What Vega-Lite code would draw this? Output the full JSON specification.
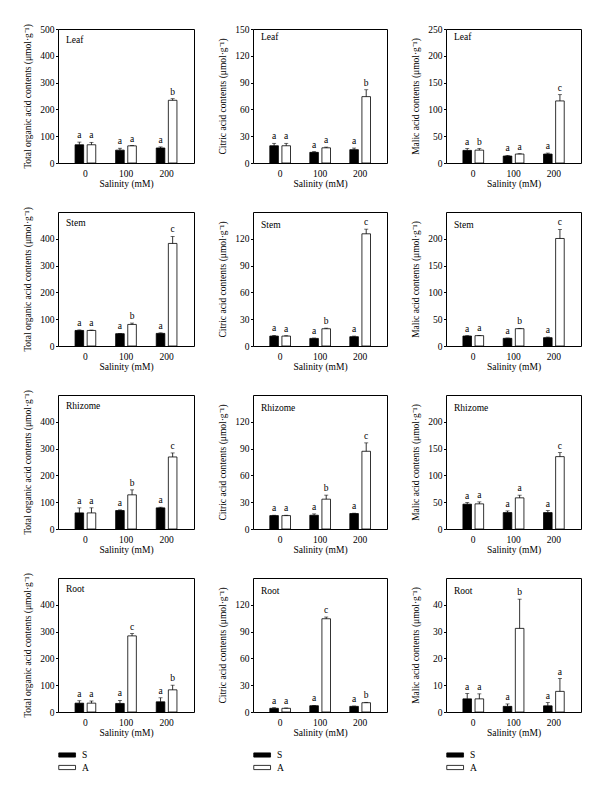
{
"$schema": "https://vega.github.io/schema/vega-lite/v6.json",
"padding": {"left": 21, "top": 23, "right": 5, "bottom": 5},
"datasets": {"d": [
{"o":"Leaf","c":"T","s":"0","g":"S","v":68,"hi":78,"L":"a"},
{"o":"Leaf","c":"T","s":"0","g":"A","v":68,"hi":77,"L":"a"},
{"o":"Leaf","c":"T","s":"100","g":"S","v":48,"hi":55,"L":"a"},
{"o":"Leaf","c":"T","s":"100","g":"A","v":64,"hi":65,"L":"a"},
{"o":"Leaf","c":"T","s":"200","g":"S","v":56,"hi":60,"L":"a"},
{"o":"Leaf","c":"T","s":"200","g":"A","v":234,"hi":240,"L":"b"},
{"o":"Leaf","c":"C","s":"0","g":"S","v":19.3,"hi":22,"L":"a"},
{"o":"Leaf","c":"C","s":"0","g":"A","v":19.3,"hi":22,"L":"a"},
{"o":"Leaf","c":"C","s":"100","g":"S","v":11.9,"hi":12.7,"L":"a"},
{"o":"Leaf","c":"C","s":"100","g":"A","v":17,"hi":17.8,"L":"a"},
{"o":"Leaf","c":"C","s":"200","g":"S","v":14.9,"hi":16.7,"L":"a"},
{"o":"Leaf","c":"C","s":"200","g":"A","v":74.3,"hi":82,"L":"b"},
{"o":"Leaf","c":"M","s":"0","g":"S","v":23.5,"hi":27,"L":"a"},
{"o":"Leaf","c":"M","s":"0","g":"A","v":24,"hi":27,"L":"b"},
{"o":"Leaf","c":"M","s":"100","g":"S","v":13,"hi":14,"L":"a"},
{"o":"Leaf","c":"M","s":"100","g":"A","v":16.7,"hi":17.3,"L":"a"},
{"o":"Leaf","c":"M","s":"200","g":"S","v":16.7,"hi":18.5,"L":"a"},
{"o":"Leaf","c":"M","s":"200","g":"A","v":115.8,"hi":127.5,"L":"c"},
{"o":"Stem","c":"T","s":"0","g":"S","v":58,"hi":60,"L":"a"},
{"o":"Stem","c":"T","s":"0","g":"A","v":58,"hi":59.5,"L":"a"},
{"o":"Stem","c":"T","s":"100","g":"S","v":46,"hi":47,"L":"a"},
{"o":"Stem","c":"T","s":"100","g":"A","v":80.5,"hi":85.5,"L":"b"},
{"o":"Stem","c":"T","s":"200","g":"S","v":47,"hi":49,"L":"a"},
{"o":"Stem","c":"T","s":"200","g":"A","v":382.7,"hi":408.7,"L":"c"},
{"o":"Stem","c":"C","s":"0","g":"S","v":11.1,"hi":11.8,"L":"a"},
{"o":"Stem","c":"C","s":"0","g":"A","v":11.1,"hi":11.5,"L":"a"},
{"o":"Stem","c":"C","s":"100","g":"S","v":8.5,"hi":8.9,"L":"a"},
{"o":"Stem","c":"C","s":"100","g":"A","v":19.3,"hi":20,"L":"b"},
{"o":"Stem","c":"C","s":"200","g":"S","v":10.4,"hi":11.1,"L":"a"},
{"o":"Stem","c":"C","s":"200","g":"A","v":125.6,"hi":130.8,"L":"c"},
{"o":"Stem","c":"M","s":"0","g":"S","v":18.6,"hi":19.2,"L":"a"},
{"o":"Stem","c":"M","s":"0","g":"A","v":19.3,"hi":19.9,"L":"a"},
{"o":"Stem","c":"M","s":"100","g":"S","v":14.3,"hi":14.9,"L":"a"},
{"o":"Stem","c":"M","s":"100","g":"A","v":32.3,"hi":32.9,"L":"b"},
{"o":"Stem","c":"M","s":"200","g":"S","v":15.5,"hi":16.7,"L":"a"},
{"o":"Stem","c":"M","s":"200","g":"A","v":200.6,"hi":217.4,"L":"c"},
{"o":"Rhizome","c":"T","s":"0","g":"S","v":60,"hi":78.8,"L":"a"},
{"o":"Rhizome","c":"T","s":"0","g":"A","v":60,"hi":79,"L":"a"},
{"o":"Rhizome","c":"T","s":"100","g":"S","v":68.8,"hi":71.3,"L":"a"},
{"o":"Rhizome","c":"T","s":"100","g":"A","v":127.5,"hi":146,"L":"b"},
{"o":"Rhizome","c":"T","s":"200","g":"S","v":78.8,"hi":81.3,"L":"a"},
{"o":"Rhizome","c":"T","s":"200","g":"A","v":268.8,"hi":283.8,"L":"c"},
{"o":"Rhizome","c":"C","s":"0","g":"S","v":15,"hi":15.4,"L":"a"},
{"o":"Rhizome","c":"C","s":"0","g":"A","v":15,"hi":15.4,"L":"a"},
{"o":"Rhizome","c":"C","s":"100","g":"S","v":15.4,"hi":16.9,"L":"a"},
{"o":"Rhizome","c":"C","s":"100","g":"A","v":33.4,"hi":37.9,"L":"b"},
{"o":"Rhizome","c":"C","s":"200","g":"S","v":17.3,"hi":17.7,"L":"a"},
{"o":"Rhizome","c":"C","s":"200","g":"A","v":87,"hi":96.4,"L":"c"},
{"o":"Rhizome","c":"M","s":"0","g":"S","v":46.3,"hi":49.4,"L":"a"},
{"o":"Rhizome","c":"M","s":"0","g":"A","v":46.9,"hi":50.6,"L":"a"},
{"o":"Rhizome","c":"M","s":"100","g":"S","v":30.6,"hi":33.7,"L":"a"},
{"o":"Rhizome","c":"M","s":"100","g":"A","v":58.1,"hi":63.1,"L":"a"},
{"o":"Rhizome","c":"M","s":"200","g":"S","v":30.6,"hi":34.3,"L":"a"},
{"o":"Rhizome","c":"M","s":"200","g":"A","v":135,"hi":142.5,"L":"c"},
{"o":"Root","c":"T","s":"0","g":"S","v":33,"hi":42,"L":"a"},
{"o":"Root","c":"T","s":"0","g":"A","v":33,"hi":41,"L":"a"},
{"o":"Root","c":"T","s":"100","g":"S","v":32,"hi":43,"L":"a"},
{"o":"Root","c":"T","s":"100","g":"A","v":284,"hi":292.6,"L":"c"},
{"o":"Root","c":"T","s":"200","g":"S","v":38,"hi":53,"L":"a"},
{"o":"Root","c":"T","s":"200","g":"A","v":82.7,"hi":100,"L":"b"},
{"o":"Root","c":"C","s":"0","g":"S","v":4.1,"hi":4.8,"L":"a"},
{"o":"Root","c":"C","s":"0","g":"A","v":4.1,"hi":4.5,"L":"a"},
{"o":"Root","c":"C","s":"100","g":"S","v":7,"hi":7.4,"L":"a"},
{"o":"Root","c":"C","s":"100","g":"A","v":104.4,"hi":106.3,"L":"c"},
{"o":"Root","c":"C","s":"200","g":"S","v":6.3,"hi":6.7,"L":"a"},
{"o":"Root","c":"C","s":"200","g":"A","v":10.4,"hi":10.8,"L":"b"},
{"o":"Root","c":"M","s":"0","g":"S","v":4.9,"hi":6.9,"L":"a"},
{"o":"Root","c":"M","s":"0","g":"A","v":4.9,"hi":6.8,"L":"a"},
{"o":"Root","c":"M","s":"100","g":"S","v":2.1,"hi":3,"L":"a"},
{"o":"Root","c":"M","s":"100","g":"A","v":31.2,"hi":42.1,"L":"b"},
{"o":"Root","c":"M","s":"200","g":"S","v":2.3,"hi":3.5,"L":"a"},
{"o":"Root","c":"M","s":"200","g":"A","v":7.7,"hi":12.5,"L":"a"}
]},
"columns": 3,
"align": "each",
"bounds": "flush",
"spacing": {"row": 49, "column": 59},
"resolve": {"legend": {"fill": "independent"}},
"concat": [
{"width":136,"height":134,"title":{"text":"Leaf","offset":-21},"data":{"name":"d"},"transform":[{"filter":"datum.o=='Leaf' && datum.c=='T'"}],
"encoding":{"x":{"field":"s","type":"nominal","sort":["0","100","200"],"title":"Salinity (mM)","scale":{"paddingInner":0.49,"paddingOuter":0.42}},"xOffset":{"field":"g","type":"nominal","sort":["S","A"],"scale":{"paddingInner":0.29,"paddingOuter":0}}},
"layer":[
{"mark":"bar","encoding":{"y":{"field":"v","type":"quantitative","scale":{"domain":[0,500],"nice":false},"axis":{"values":[0,100,200,300,400,500]},"title":"Total organic acid contents (μmol·g⁻¹)"},"fill":{"field":"g","type":"nominal","scale":{"domain":["S","A"],"range":["#000000","#ffffff"]},"legend":null}}},
{"mark":"rule","encoding":{"y":{"field":"v","type":"quantitative","axis":{"values":[0,100,200,300,400,500]},"title":"Total organic acid contents (μmol·g⁻¹)"},"y2":{"field":"hi"}}},
{"mark":{"type":"tick","size":4},"encoding":{"y":{"field":"hi","type":"quantitative","axis":{"values":[0,100,200,300,400,500]},"title":"Total organic acid contents (μmol·g⁻¹)"}}},
{"mark":{"type":"text","color":"#000000"},"encoding":{"y":{"field":"hi","type":"quantitative","axis":{"values":[0,100,200,300,400,500]},"title":"Total organic acid contents (μmol·g⁻¹)"},"text":{"field":"L"}}}]},
{"width":134,"height":134,"title":"Leaf","data":{"name":"d"},"transform":[{"filter":"datum.o=='Leaf' && datum.c=='C'"}],
"encoding":{"x":{"field":"s","type":"nominal","sort":["0","100","200"],"title":"Salinity (mM)","scale":{"paddingInner":0.49,"paddingOuter":0.42}},"xOffset":{"field":"g","type":"nominal","sort":["S","A"],"scale":{"paddingInner":0.29,"paddingOuter":0}}},
"layer":[
{"mark":"bar","encoding":{"y":{"field":"v","type":"quantitative","scale":{"domain":[0,150],"nice":false},"axis":{"values":[0,30,60,90,120,150]},"title":"Citric acid contents (μmol·g⁻¹)"},"fill":{"field":"g","type":"nominal","scale":{"domain":["S","A"],"range":["#000000","#ffffff"]},"legend":null}}},
{"mark":"rule","encoding":{"y":{"field":"v","type":"quantitative","axis":{"values":[0,30,60,90,120,150]},"title":"Citric acid contents (μmol·g⁻¹)"},"y2":{"field":"hi"}}},
{"mark":{"type":"tick","size":4},"encoding":{"y":{"field":"hi","type":"quantitative","axis":{"values":[0,30,60,90,120,150]},"title":"Citric acid contents (μmol·g⁻¹)"}}},
{"mark":{"type":"text","color":"#000000"},"encoding":{"y":{"field":"hi","type":"quantitative","axis":{"values":[0,30,60,90,120,150]},"title":"Citric acid contents (μmol·g⁻¹)"},"text":{"field":"L"}}}]},
{"width":135,"height":134,"title":"Leaf","data":{"name":"d"},"transform":[{"filter":"datum.o=='Leaf' && datum.c=='M'"}],
"encoding":{"x":{"field":"s","type":"nominal","sort":["0","100","200"],"title":"Salinity (mM)","scale":{"paddingInner":0.49,"paddingOuter":0.42}},"xOffset":{"field":"g","type":"nominal","sort":["S","A"],"scale":{"paddingInner":0.29,"paddingOuter":0}}},
"layer":[
{"mark":"bar","encoding":{"y":{"field":"v","type":"quantitative","scale":{"domain":[0,250],"nice":false},"axis":{"values":[0,50,100,150,200,250]},"title":"Malic acid contents (μmol·g⁻¹)"},"fill":{"field":"g","type":"nominal","scale":{"domain":["S","A"],"range":["#000000","#ffffff"]},"legend":null}}},
{"mark":"rule","encoding":{"y":{"field":"v","type":"quantitative","axis":{"values":[0,50,100,150,200,250]},"title":"Malic acid contents (μmol·g⁻¹)"},"y2":{"field":"hi"}}},
{"mark":{"type":"tick","size":4},"encoding":{"y":{"field":"hi","type":"quantitative","axis":{"values":[0,50,100,150,200,250]},"title":"Malic acid contents (μmol·g⁻¹)"}}},
{"mark":{"type":"text","color":"#000000"},"encoding":{"y":{"field":"hi","type":"quantitative","axis":{"values":[0,50,100,150,200,250]},"title":"Malic acid contents (μmol·g⁻¹)"},"text":{"field":"L"}}}]},
{"width":136,"height":134,"title":{"text":"Stem","offset":-21},"data":{"name":"d"},"transform":[{"filter":"datum.o=='Stem' && datum.c=='T'"}],
"encoding":{"x":{"field":"s","type":"nominal","sort":["0","100","200"],"title":"Salinity (mM)","scale":{"paddingInner":0.49,"paddingOuter":0.42}},"xOffset":{"field":"g","type":"nominal","sort":["S","A"],"scale":{"paddingInner":0.29,"paddingOuter":0}}},
"layer":[
{"mark":"bar","encoding":{"y":{"field":"v","type":"quantitative","scale":{"domain":[0,500],"nice":false},"axis":{"values":[0,100,200,300,400]},"title":"Total organic acid contents (μmol·g⁻¹)"},"fill":{"field":"g","type":"nominal","scale":{"domain":["S","A"],"range":["#000000","#ffffff"]},"legend":null}}},
{"mark":"rule","encoding":{"y":{"field":"v","type":"quantitative","axis":{"values":[0,100,200,300,400]},"title":"Total organic acid contents (μmol·g⁻¹)"},"y2":{"field":"hi"}}},
{"mark":{"type":"tick","size":4},"encoding":{"y":{"field":"hi","type":"quantitative","axis":{"values":[0,100,200,300,400]},"title":"Total organic acid contents (μmol·g⁻¹)"}}},
{"mark":{"type":"text","color":"#000000"},"encoding":{"y":{"field":"hi","type":"quantitative","axis":{"values":[0,100,200,300,400]},"title":"Total organic acid contents (μmol·g⁻¹)"},"text":{"field":"L"}}}]},
{"width":134,"height":134,"title":"Stem","data":{"name":"d"},"transform":[{"filter":"datum.o=='Stem' && datum.c=='C'"}],
"encoding":{"x":{"field":"s","type":"nominal","sort":["0","100","200"],"title":"Salinity (mM)","scale":{"paddingInner":0.49,"paddingOuter":0.42}},"xOffset":{"field":"g","type":"nominal","sort":["S","A"],"scale":{"paddingInner":0.29,"paddingOuter":0}}},
"layer":[
{"mark":"bar","encoding":{"y":{"field":"v","type":"quantitative","scale":{"domain":[0,150],"nice":false},"axis":{"values":[0,30,60,90,120]},"title":"Citric acid contents (μmol·g⁻¹)"},"fill":{"field":"g","type":"nominal","scale":{"domain":["S","A"],"range":["#000000","#ffffff"]},"legend":null}}},
{"mark":"rule","encoding":{"y":{"field":"v","type":"quantitative","axis":{"values":[0,30,60,90,120]},"title":"Citric acid contents (μmol·g⁻¹)"},"y2":{"field":"hi"}}},
{"mark":{"type":"tick","size":4},"encoding":{"y":{"field":"hi","type":"quantitative","axis":{"values":[0,30,60,90,120]},"title":"Citric acid contents (μmol·g⁻¹)"}}},
{"mark":{"type":"text","color":"#000000"},"encoding":{"y":{"field":"hi","type":"quantitative","axis":{"values":[0,30,60,90,120]},"title":"Citric acid contents (μmol·g⁻¹)"},"text":{"field":"L"}}}]},
{"width":135,"height":134,"title":"Stem","data":{"name":"d"},"transform":[{"filter":"datum.o=='Stem' && datum.c=='M'"}],
"encoding":{"x":{"field":"s","type":"nominal","sort":["0","100","200"],"title":"Salinity (mM)","scale":{"paddingInner":0.49,"paddingOuter":0.42}},"xOffset":{"field":"g","type":"nominal","sort":["S","A"],"scale":{"paddingInner":0.29,"paddingOuter":0}}},
"layer":[
{"mark":"bar","encoding":{"y":{"field":"v","type":"quantitative","scale":{"domain":[0,250],"nice":false},"axis":{"values":[0,50,100,150,200]},"title":"Malic acid contents (μmol·g⁻¹)"},"fill":{"field":"g","type":"nominal","scale":{"domain":["S","A"],"range":["#000000","#ffffff"]},"legend":null}}},
{"mark":"rule","encoding":{"y":{"field":"v","type":"quantitative","axis":{"values":[0,50,100,150,200]},"title":"Malic acid contents (μmol·g⁻¹)"},"y2":{"field":"hi"}}},
{"mark":{"type":"tick","size":4},"encoding":{"y":{"field":"hi","type":"quantitative","axis":{"values":[0,50,100,150,200]},"title":"Malic acid contents (μmol·g⁻¹)"}}},
{"mark":{"type":"text","color":"#000000"},"encoding":{"y":{"field":"hi","type":"quantitative","axis":{"values":[0,50,100,150,200]},"title":"Malic acid contents (μmol·g⁻¹)"},"text":{"field":"L"}}}]},
{"width":136,"height":134,"title":{"text":"Rhizome","offset":-21},"data":{"name":"d"},"transform":[{"filter":"datum.o=='Rhizome' && datum.c=='T'"}],
"encoding":{"x":{"field":"s","type":"nominal","sort":["0","100","200"],"title":"Salinity (mM)","scale":{"paddingInner":0.49,"paddingOuter":0.42}},"xOffset":{"field":"g","type":"nominal","sort":["S","A"],"scale":{"paddingInner":0.29,"paddingOuter":0}}},
"layer":[
{"mark":"bar","encoding":{"y":{"field":"v","type":"quantitative","scale":{"domain":[0,500],"nice":false},"axis":{"values":[0,100,200,300,400]},"title":"Total organic acid contents (μmol·g⁻¹)"},"fill":{"field":"g","type":"nominal","scale":{"domain":["S","A"],"range":["#000000","#ffffff"]},"legend":null}}},
{"mark":"rule","encoding":{"y":{"field":"v","type":"quantitative","axis":{"values":[0,100,200,300,400]},"title":"Total organic acid contents (μmol·g⁻¹)"},"y2":{"field":"hi"}}},
{"mark":{"type":"tick","size":4},"encoding":{"y":{"field":"hi","type":"quantitative","axis":{"values":[0,100,200,300,400]},"title":"Total organic acid contents (μmol·g⁻¹)"}}},
{"mark":{"type":"text","color":"#000000"},"encoding":{"y":{"field":"hi","type":"quantitative","axis":{"values":[0,100,200,300,400]},"title":"Total organic acid contents (μmol·g⁻¹)"},"text":{"field":"L"}}}]},
{"width":134,"height":134,"title":"Rhizome","data":{"name":"d"},"transform":[{"filter":"datum.o=='Rhizome' && datum.c=='C'"}],
"encoding":{"x":{"field":"s","type":"nominal","sort":["0","100","200"],"title":"Salinity (mM)","scale":{"paddingInner":0.49,"paddingOuter":0.42}},"xOffset":{"field":"g","type":"nominal","sort":["S","A"],"scale":{"paddingInner":0.29,"paddingOuter":0}}},
"layer":[
{"mark":"bar","encoding":{"y":{"field":"v","type":"quantitative","scale":{"domain":[0,150],"nice":false},"axis":{"values":[0,30,60,90,120]},"title":"Citric acid contents (μmol·g⁻¹)"},"fill":{"field":"g","type":"nominal","scale":{"domain":["S","A"],"range":["#000000","#ffffff"]},"legend":null}}},
{"mark":"rule","encoding":{"y":{"field":"v","type":"quantitative","axis":{"values":[0,30,60,90,120]},"title":"Citric acid contents (μmol·g⁻¹)"},"y2":{"field":"hi"}}},
{"mark":{"type":"tick","size":4},"encoding":{"y":{"field":"hi","type":"quantitative","axis":{"values":[0,30,60,90,120]},"title":"Citric acid contents (μmol·g⁻¹)"}}},
{"mark":{"type":"text","color":"#000000"},"encoding":{"y":{"field":"hi","type":"quantitative","axis":{"values":[0,30,60,90,120]},"title":"Citric acid contents (μmol·g⁻¹)"},"text":{"field":"L"}}}]},
{"width":135,"height":134,"title":"Rhizome","data":{"name":"d"},"transform":[{"filter":"datum.o=='Rhizome' && datum.c=='M'"}],
"encoding":{"x":{"field":"s","type":"nominal","sort":["0","100","200"],"title":"Salinity (mM)","scale":{"paddingInner":0.49,"paddingOuter":0.42}},"xOffset":{"field":"g","type":"nominal","sort":["S","A"],"scale":{"paddingInner":0.29,"paddingOuter":0}}},
"layer":[
{"mark":"bar","encoding":{"y":{"field":"v","type":"quantitative","scale":{"domain":[0,250],"nice":false},"axis":{"values":[0,50,100,150,200]},"title":"Malic acid contents (μmol·g⁻¹)"},"fill":{"field":"g","type":"nominal","scale":{"domain":["S","A"],"range":["#000000","#ffffff"]},"legend":null}}},
{"mark":"rule","encoding":{"y":{"field":"v","type":"quantitative","axis":{"values":[0,50,100,150,200]},"title":"Malic acid contents (μmol·g⁻¹)"},"y2":{"field":"hi"}}},
{"mark":{"type":"tick","size":4},"encoding":{"y":{"field":"hi","type":"quantitative","axis":{"values":[0,50,100,150,200]},"title":"Malic acid contents (μmol·g⁻¹)"}}},
{"mark":{"type":"text","color":"#000000"},"encoding":{"y":{"field":"hi","type":"quantitative","axis":{"values":[0,50,100,150,200]},"title":"Malic acid contents (μmol·g⁻¹)"},"text":{"field":"L"}}}]},
{"width":136,"height":134,"title":{"text":"Root","offset":-21},"data":{"name":"d"},"transform":[{"filter":"datum.o=='Root' && datum.c=='T'"}],
"encoding":{"x":{"field":"s","type":"nominal","sort":["0","100","200"],"title":"Salinity (mM)","scale":{"paddingInner":0.49,"paddingOuter":0.42}},"xOffset":{"field":"g","type":"nominal","sort":["S","A"],"scale":{"paddingInner":0.29,"paddingOuter":0}}},
"layer":[
{"mark":"bar","encoding":{"y":{"field":"v","type":"quantitative","scale":{"domain":[0,500],"nice":false},"axis":{"values":[0,100,200,300,400]},"title":"Total organic acid contents (μmol·g⁻¹)"},"fill":{"field":"g","type":"nominal","scale":{"domain":["S","A"],"range":["#000000","#ffffff"]},"legend":{}}}},
{"mark":"rule","encoding":{"y":{"field":"v","type":"quantitative","axis":{"values":[0,100,200,300,400]},"title":"Total organic acid contents (μmol·g⁻¹)"},"y2":{"field":"hi"}}},
{"mark":{"type":"tick","size":4},"encoding":{"y":{"field":"hi","type":"quantitative","axis":{"values":[0,100,200,300,400]},"title":"Total organic acid contents (μmol·g⁻¹)"}}},
{"mark":{"type":"text","color":"#000000"},"encoding":{"y":{"field":"hi","type":"quantitative","axis":{"values":[0,100,200,300,400]},"title":"Total organic acid contents (μmol·g⁻¹)"},"text":{"field":"L"}}}]},
{"width":134,"height":134,"title":"Root","data":{"name":"d"},"transform":[{"filter":"datum.o=='Root' && datum.c=='C'"}],
"encoding":{"x":{"field":"s","type":"nominal","sort":["0","100","200"],"title":"Salinity (mM)","scale":{"paddingInner":0.49,"paddingOuter":0.42}},"xOffset":{"field":"g","type":"nominal","sort":["S","A"],"scale":{"paddingInner":0.29,"paddingOuter":0}}},
"layer":[
{"mark":"bar","encoding":{"y":{"field":"v","type":"quantitative","scale":{"domain":[0,150],"nice":false},"axis":{"values":[0,30,60,90,120]},"title":"Citric acid contents (μmol·g⁻¹)"},"fill":{"field":"g","type":"nominal","scale":{"domain":["S","A"],"range":["#000000","#ffffff"]},"legend":{}}}},
{"mark":"rule","encoding":{"y":{"field":"v","type":"quantitative","axis":{"values":[0,30,60,90,120]},"title":"Citric acid contents (μmol·g⁻¹)"},"y2":{"field":"hi"}}},
{"mark":{"type":"tick","size":4},"encoding":{"y":{"field":"hi","type":"quantitative","axis":{"values":[0,30,60,90,120]},"title":"Citric acid contents (μmol·g⁻¹)"}}},
{"mark":{"type":"text","color":"#000000"},"encoding":{"y":{"field":"hi","type":"quantitative","axis":{"values":[0,30,60,90,120]},"title":"Citric acid contents (μmol·g⁻¹)"},"text":{"field":"L"}}}]},
{"width":135,"height":134,"title":"Root","data":{"name":"d"},"transform":[{"filter":"datum.o=='Root' && datum.c=='M'"}],
"encoding":{"x":{"field":"s","type":"nominal","sort":["0","100","200"],"title":"Salinity (mM)","scale":{"paddingInner":0.49,"paddingOuter":0.42}},"xOffset":{"field":"g","type":"nominal","sort":["S","A"],"scale":{"paddingInner":0.29,"paddingOuter":0}}},
"layer":[
{"mark":"bar","encoding":{"y":{"field":"v","type":"quantitative","scale":{"domain":[0,50],"nice":false},"axis":{"values":[0,10,20,30,40]},"title":"Malic acid contents (μmol·g⁻¹)"},"fill":{"field":"g","type":"nominal","scale":{"domain":["S","A"],"range":["#000000","#ffffff"]},"legend":{}}}},
{"mark":"rule","encoding":{"y":{"field":"v","type":"quantitative","axis":{"values":[0,10,20,30,40]},"title":"Malic acid contents (μmol·g⁻¹)"},"y2":{"field":"hi"}}},
{"mark":{"type":"tick","size":4},"encoding":{"y":{"field":"hi","type":"quantitative","axis":{"values":[0,10,20,30,40]},"title":"Malic acid contents (μmol·g⁻¹)"}}},
{"mark":{"type":"text","color":"#000000"},"encoding":{"y":{"field":"hi","type":"quantitative","axis":{"values":[0,10,20,30,40]},"title":"Malic acid contents (μmol·g⁻¹)"},"text":{"field":"L"}}}]}
],
"config": {
"font": "Liberation Serif",
"background": "white",
"view": {"stroke": "black", "strokeWidth": 1},
"axis": {"labelFont": "Liberation Serif", "titleFont": "Liberation Serif", "labelFontSize": 9.5, "titleFontSize": 9.5, "titleFontWeight": "normal", "labelColor": "black", "titleColor": "black", "tickColor": "black", "domain": false, "grid": false, "labelOverlap": false},
"axisX": {"ticks": false, "labelAngle": 0, "labelPadding": 5, "titlePadding": 1},
"axisY": {"tickSize": 2.5, "labelPadding": 1.5, "titleX": -26, "labelFlush": false},
"title": {"anchor": "start", "frame": "group", "offset": -17, "dx": 8, "fontSize": 9.5, "font": "Liberation Serif", "fontWeight": "normal", "color": "black"},
"legend": {"title": null, "orient": "bottom", "direction": "vertical", "symbolType": "M-1,-0.4H2.2V0.4H-1Z", "symbolSize": 110, "symbolStrokeColor": "black", "symbolStrokeWidth": 0.8, "labelFont": "Liberation Serif", "labelFontSize": 9.5, "labelColor": "black", "labelOffset": 12, "rowPadding": 1.5, "offset": 11.5},
"bar": {"stroke": "black", "strokeWidth": 0.8},
"rule": {"color": "black", "strokeWidth": 0.8},
"tick": {"color": "black", "thickness": 0.8},
"text": {"fontSize": 9.5, "baseline": "bottom", "dy": -2, "font": "Liberation Serif"}
}
}
